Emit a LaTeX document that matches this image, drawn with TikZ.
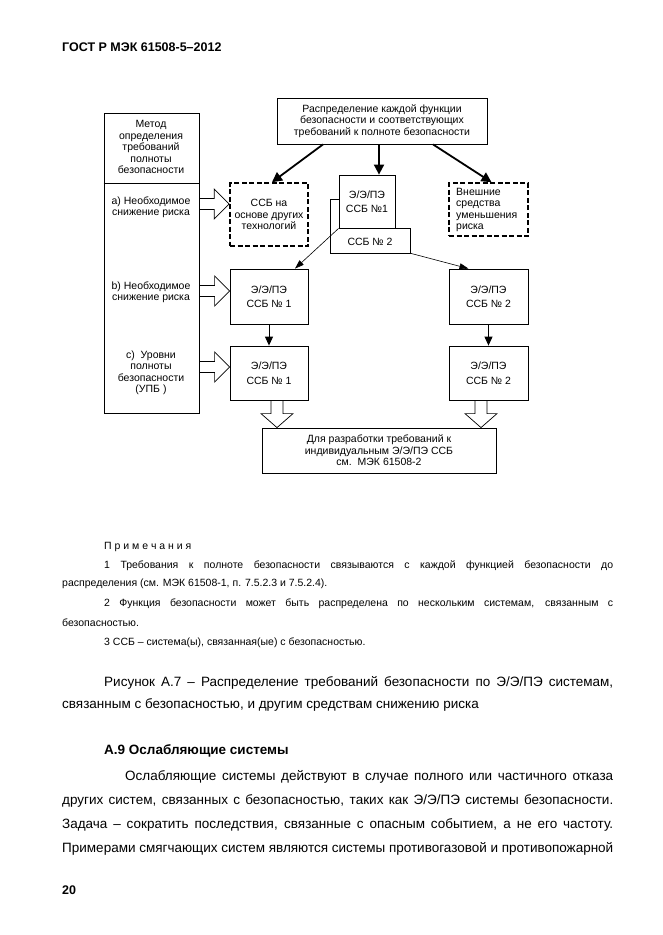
\documentclass[tikz,border=0pt]{standalone}
\usepackage{fontspec}
\setmainfont{Liberation Sans}
\usetikzlibrary{arrows.meta,calc}
\newcommand\dgfont{\fontsize{10.5}{11.5}\selectfont}
\newcommand\notefont{\fontsize{10.5}{12}\selectfont}
\newcommand\bodyfont{\fontsize{13.5}{16}\selectfont}
\newcommand\jline[2]{\makebox[#1pt][s]{#2}}
\newcommand\rblock[2]{\draw[hollow] ($(#1)+(0,-5.5)$) -- ($(#2)+(-15,-5.5)$) -- ($(#2)+(-15,-15)$) -- (#2) -- ($(#2)+(-15,15)$) -- ($(#2)+(-15,5.5)$) -- ($(#1)+(0,5.5)$);}
\newcommand\dblock[2]{\draw[hollow] ($(#1)+(-6,0)$) -- ($(#2)+(-6,-14)$) -- ($(#2)+(-16,-14)$) -- (#2) -- ($(#2)+(16,-14)$) -- ($(#2)+(6,-14)$) -- ($(#1)+(6,0)$);}
\begin{document}
\begin{tikzpicture}[x=1pt,y=-1pt,
  box/.style={draw,line width=0.8pt,inner sep=0pt,align=center,font=\dgfont},
  dbox/.style={draw,line width=1.6pt,dash pattern=on 5pt off 2.5pt,inner sep=0pt,align=center,font=\dgfont},
  lbl/.style={inner sep=0pt,align=center,font=\dgfont},
  ln/.style={inner sep=0pt,anchor=west},
  tarr/.style={line width=1.8pt,-{Triangle[length=10pt,width=10pt]}},
  narr/.style={line width=0.6pt,-{Triangle[length=9pt,width=6pt]}},
  darr/.style={line width=1pt,-{Triangle[length=9pt,width=8pt]}},
  hollow/.style={line width=0.7pt,line join=miter}
]
\fill[white] (0,0) rectangle (662,935);
\useasboundingbox (0,0) rectangle (662,935);

% header
\node[ln,font=\bfseries\fontsize{12.5}{14}\selectfont] (hdr) at (62,47) {ГОСТ Р МЭК 61508-5–2012};

% left box
\node[box,minimum width=95pt,minimum height=300pt] (L) at (151.5,263) {};
\draw[line width=0.8pt] (L.west |- 0,183) -- (L.east |- 0,183);
\node[lbl] (Lt) at (151,147) {Метод\\определения\\требований\\полноты\\безопасности};
\node[lbl] (La) at (151,207) {a) Необходимое\\снижение риска};
\node[lbl] (Lb) at (151,292) {b) Необходимое\\снижение риска};
\node[lbl] (Lc) at (151,373) {c)\ \ Уровни\\полноты\\безопасности\\(УПБ )};

% top box
\node[box,minimum width=210pt,minimum height=46pt] (T) at (382,121) {Распределение каждой функции\\безопасности и соответствующих\\требований к полноте безопасности};

% dashed boxes
\node[dbox,minimum width=78pt,minimum height=63pt] (D) at (269,214.5) {ССБ на\\основе других\\технологий};
\node[dbox,minimum width=79pt,minimum height=53pt] (E) at (488.5,209.5) {};
\node[lbl,anchor=west,align=left,font=\fontsize{10.5}{11.2}\selectfont] (Et) at (456,210) {Внешние\\средства\\уменьшения\\риска};

% stacked SSB boxes
\node[lbl,minimum width=79pt,minimum height=53pt] (S2) at (370.5,226.5) {};
\node[box,fill=white,minimum width=56pt,minimum height=53pt] (S1) at (367,201.5) {Э/Э/ПЭ\\[3pt]ССБ №1};
\draw[line width=0.8pt] (S1.west |- S2.north) -- (S2.north west) -- (S2.south west) -- (S2.south east) -- (S2.east |- S1.south) -- (S1.south east);
\node[lbl] (S2t) at (370,242) {ССБ № 2};

% lower boxes
\node[box,minimum width=78pt,minimum height=55pt] (B1) at (269,296.5) {Э/Э/ПЭ\\[3pt]ССБ № 1};
\node[box,minimum width=78pt,minimum height=54pt] (C1) at (269,373) {Э/Э/ПЭ\\[3pt]ССБ № 1};
\node[box,minimum width=79pt,minimum height=55pt] (B2) at (488.5,296.5) {Э/Э/ПЭ\\[3pt]ССБ № 2};
\node[box,minimum width=79pt,minimum height=54pt] (C2) at (488.5,373) {Э/Э/ПЭ\\[3pt]ССБ № 2};
\node[box,minimum width=234pt,minimum height=45pt] (F) at (379,450.5) {Для разработки требований к\\индивидуальным Э/Э/ПЭ ССБ\\см.\ \ МЭК 61508-2};

% arrows from top box
\draw[tarr] ([xshift=-59pt]T.south) -- ([xshift=3pt]D.north);
\draw[tarr] ([xshift=12pt]S1.north |- T.south) -- ([xshift=12pt]S1.north);
\draw[tarr] ([xshift=51pt]T.south) -- ([xshift=3pt]E.north);

% thin arrows
\draw[narr] (S1.south west) -- ([xshift=26pt]B1.north);
\draw[narr] (S2.south east) -- ([xshift=-20pt]B2.north);

% down arrows
\draw[darr] (B1.south) -- (C1.north);
\draw[darr] (B2.south) -- (C2.north);

% hollow block arrows
\coordinate (ra0) at (L.east |- 0,204);  \coordinate (ra1) at (D.west |- 0,204);
\coordinate (rb0) at (L.east |- 0,291);  \coordinate (rb1) at (B1.west |- 0,291);
\coordinate (rc0) at (L.east |- 0,367);  \coordinate (rc1) at (C1.west |- 0,367);
\rblock{ra0}{ra1}
\rblock{rb0}{rb1}
\rblock{rc0}{rc1}
\coordinate (da0) at (C1.south -| 277,0); \coordinate (da1) at (F.north -| 277,0);
\coordinate (db0) at (C2.south -| 481,0); \coordinate (db1) at (F.north -| 481,0);
\dblock{da0}{da1}
\dblock{db0}{db1}

% notes
\node[ln,font=\notefont] (n0) at (104,547) {П р и м е ч а н и я};
\node[ln,font=\notefont] (n1) at (104,566) {\jline{509}{1 Требования к полноте безопасности связываются с каждой функцией безопасности до}};
\node[ln,font=\notefont] (n1b) at (62,584) {распределения (см. МЭК 61508-1, п. 7.5.2.3 и 7.5.2.4).};
\node[ln,font=\notefont] (n2) at (104,604) {\jline{509}{2 Функция безопасности может быть распределена по нескольким системам, связанным с}};
\node[ln,font=\notefont] (n2b) at (62,623) {безопасностью.};
\node[ln,font=\notefont] (n3) at (104,643) {3 ССБ – система(ы), связанная(ые) с безопасностью.};

% caption
\node[ln,font=\bodyfont] (cap1) at (104,683) {\jline{509}{Рисунок А.7 – Распределение требований безопасности по Э/Э/ПЭ системам,}};
\node[ln,font=\bodyfont] (cap2) at (62,705) {связанным с безопасностью, и другим средствам снижению риска};

% section
\node[ln,font=\bfseries\bodyfont] (sec) at (104,751) {А.9 Ослабляющие системы};
\node[ln,font=\bodyfont] (p1) at (125,777) {\jline{488}{Ослабляющие системы действуют в случае полного или частичного отказа}};
\node[ln,font=\bodyfont] (p2) at (62,801) {\jline{551}{других систем, связанных с безопасностью, таких как Э/Э/ПЭ системы безопасности.}};
\node[ln,font=\bodyfont] (p3) at (62,825) {\jline{551}{Задача – сократить последствия, связанные с опасным событием, а не его частоту.}};
\node[ln,font=\bodyfont] (p4) at (62,849) {\jline{551}{Примерами смягчающих систем являются системы противогазовой и противопожарной}};

\node[ln,font=\bfseries\fontsize{12.5}{14}\selectfont] (pg) at (62,890) {20};
\end{tikzpicture}
\end{document}
